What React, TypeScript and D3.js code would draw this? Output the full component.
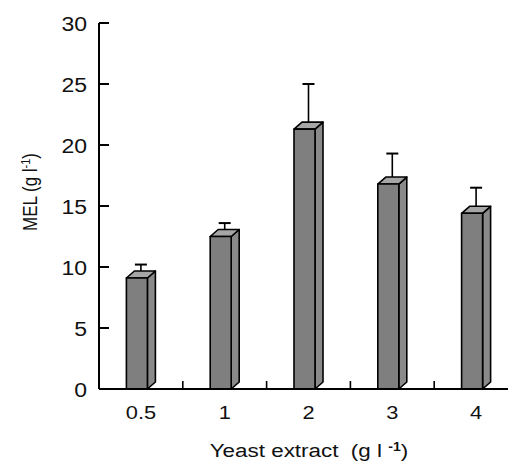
import * as d3 from "d3";

const categories = ["0.5", "1", "2", "3", "4"];
const melValues = [9.1, 12.5, 21.3, 16.8, 14.4];
const errorTops = [10.2, 13.6, 25.0, 19.3, 16.5];
const yTicks = [0, 5, 10, 15, 20, 25, 30];

export default function App() {
  const width = 508;
  const height = 461;
  const margin = { top: 23, left: 99, bottom: 72, right: -10 };
  const x = d3
    .scaleBand(categories, [margin.left, width - margin.right])
    .paddingInner(0)
    .paddingOuter(0);
  const y = d3.scaleLinear([0, 30], [height - margin.bottom, margin.top]);
  const zero = y(0);
  const faceW = 21;
  const dx = 8;
  const dy = 7;
  const font = "Liberation Sans, Arial, sans-serif";
  // the source scan is stretched a little horizontally
  const sx = 1.18;

  const hText = (tx: number, ty: number) => `translate(${tx},${ty}) scale(${sx},1)`;

  return (
    <svg
      width={width}
      height={height}
      style={{ position: "absolute", left: 0, top: 0, background: "#fff" }}
    >
      {categories.map((c, i) => {
        const cx = (x(c) ?? 0) + x.bandwidth() / 2;
        const x0 = cx - (faceW + dx) / 2;
        const x1 = x0 + faceW;
        const top = y(melValues[i]);
        const ex = x0 + faceW / 2 + dx / 2;
        const eTop = y(errorTops[i]);
        return (
          <g key={c} stroke="#000" strokeWidth={1.6} strokeLinejoin="round">
            <line x1={ex} x2={ex} y1={top - dy / 2} y2={eTop} />
            <line x1={ex - 6} x2={ex + 6} y1={eTop} y2={eTop} strokeWidth={2} />
            <path
              d={`M${x1},${zero} L${x1 + dx},${zero - dy} L${x1 + dx},${top - dy} L${x1},${top} Z`}
              fill="#8a8a8a"
            />
            <path
              d={`M${x0},${top} L${x0 + dx},${top - dy} L${x1 + dx},${top - dy} L${x1},${top} Z`}
              fill="#a6a6a6"
            />
            <rect x={x0} y={top} width={faceW} height={zero - top} fill="#7f7f7f" />
          </g>
        );
      })}
      <line x1={margin.left} x2={margin.left} y1={y(30)} y2={zero} stroke="#000" strokeWidth={2} />
      <line x1={margin.left} x2={width + 10} y1={zero} y2={zero} stroke="#000" strokeWidth={2} />
      {yTicks.map((t) => (
        <g key={t}>
          <line x1={margin.left} x2={margin.left + 10} y1={y(t)} y2={y(t)} stroke="#000" strokeWidth={2} />
          <text
            transform={hText(87, y(t) + 7.5)}
            textAnchor="end"
            fontFamily={font}
            fontSize={19.5}
            fill="#111"
          >
            {t}
          </text>
        </g>
      ))}
      {categories.slice(1).map((c) => (
        <line
          key={c}
          x1={x(c) ?? 0}
          x2={x(c) ?? 0}
          y1={zero}
          y2={zero - 8}
          stroke="#000"
          strokeWidth={1.6}
        />
      ))}
      {categories.map((c) => (
        <text
          key={c}
          transform={hText((x(c) ?? 0) + x.bandwidth() / 2, 419)}
          textAnchor="middle"
          fontFamily={font}
          fontSize={18.5}
          fill="#111"
        >
          {c}
        </text>
      ))}
      <text
        transform={`translate(37,192) rotate(-90) scale(1,${sx})`}
        textAnchor="middle"
        fontFamily={font}
        fontSize={17}
        fill="#111"
      >
        MEL (g l
        <tspan dy={-6} fontSize={11}>-1</tspan>
        <tspan dy={6}>)</tspan>
      </text>
      <text
        transform={hText(309, 457)}
        textAnchor="middle"
        fontFamily={font}
        fontSize={19}
        fill="#111"
      >
        {"Yeast extract\u00a0\u00a0(g l\u00a0"}
        <tspan dy={-6} fontSize={12} fontWeight="bold">-1</tspan>
        <tspan dy={6}>)</tspan>
      </text>
    </svg>
  );
}
